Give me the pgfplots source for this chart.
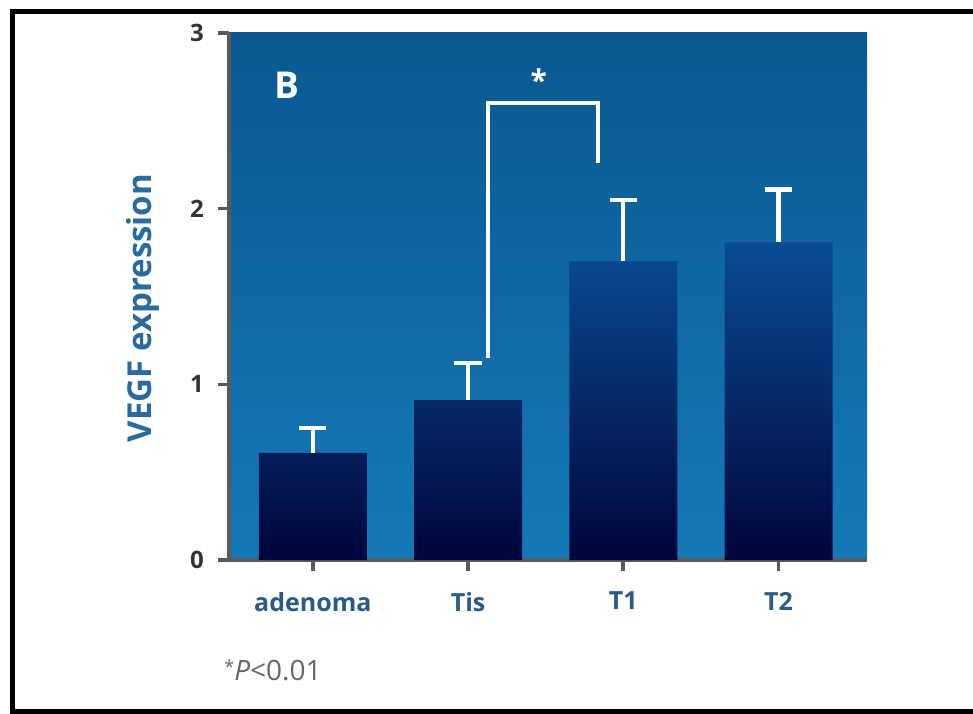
\documentclass[border=0pt]{standalone}
\usepackage{pgfplots}
\pgfplotsset{compat=1.18}
\usepackage{fontspec}
\setmainfont{Open Sans}

\definecolor{bgtop}{HTML}{0B5890}
\definecolor{bgbot}{HTML}{1479B8}
\definecolor{bartop}{HTML}{0A4C95}
\definecolor{barmid}{HTML}{041C62}
\definecolor{barbot}{HTML}{01053A}
\definecolor{spine}{HTML}{5A5A5A}
\definecolor{ticktext}{HTML}{333333}
\definecolor{labelblue}{HTML}{2A6A9E}
\definecolor{catblue}{HTML}{2B5A84}
\definecolor{notegray}{HTML}{666666}

% group means and upper error (SEM)
\pgfplotstableread{
x  mean  err
0  0.61  0.14
1  0.91  0.21
2  1.70  0.35
3  1.81  0.30
}\vegfdata

\begin{document}
\begin{tikzpicture}[x=0.5pt,y=0.5pt]
\useasboundingbox (0,0) rectangle (973,713);
% outer frame
\draw[black, line width=2.8pt] (990,701.5) -- (12.5,701.5) -- (12.5,1) -- (990,1);

\begin{axis}[
  at={(114.5pt,76.5pt)}, anchor=south west,
  scale only axis, width=319pt, height=263.5pt,
  xmin=-0.54, xmax=3.57, ymin=0, ymax=3,
  clip=false,
  axis background/.style={top color=bgtop, bottom color=bgbot},
  axis x line*=bottom, axis y line*=left,
  axis line style={-, spine, line width=2pt},
  xtick={0,1,2,3},
  xticklabels={adenoma, Tis, T1, T2},
  ytick={0,1,2,3},
  tick align=outside,
  major tick length=5.5pt,
  every tick/.style={spine, line width=1.8pt},
  /pgf/number format/assume math mode=true,
  yticklabel style={font=\fontsize{12}{14}\selectfont\bfseries, text=ticktext, xshift=-3.5pt},
  xticklabel style={font=\fontsize{12.5}{15}\selectfont\bfseries, text=catblue, yshift=-7pt},
]
\addplot[ybar, bar width=54pt, draw=none,
  top color=bartop, middle color=barmid, bottom color=barbot]
  table[x=x, y=mean] {\vegfdata};
\addplot[draw=none, mark=none, forget plot,
  error bars/.cd, y dir=plus, y explicit,
  error bar style={draw=white, line width=2.2pt},
  error mark options={rotate=90, draw=white, mark size=6.8pt, line width=2.2pt}]
  table[x=x, y=mean, y error=err] {\vegfdata};
% significance bracket Tis vs T1
\draw[white, line width=2pt] (axis cs:1.13,1.15) -- (axis cs:1.13,2.60)
  -- (axis cs:1.84,2.60) -- (axis cs:1.84,2.26);
\node[white, font=\fontsize{15}{15}\selectfont\bfseries] at (axis cs:1.455,2.73) {*};
\node[white, font=\fontsize{18.5}{20}\selectfont\bfseries] at (axis cs:-0.17,2.70) {B};
\end{axis}

\node[rotate=90, text=labelblue, font=\fontsize{16.5}{18}\selectfont\bfseries]
  at (143,405) {VEGF expression};
\node[anchor=west, text=notegray, font=\fontsize{14}{16}\selectfont, inner sep=0pt]
  at (224,43) {\raisebox{0.45ex}{\small*}\textit{P}<0.01};
\end{tikzpicture}
\end{document}
